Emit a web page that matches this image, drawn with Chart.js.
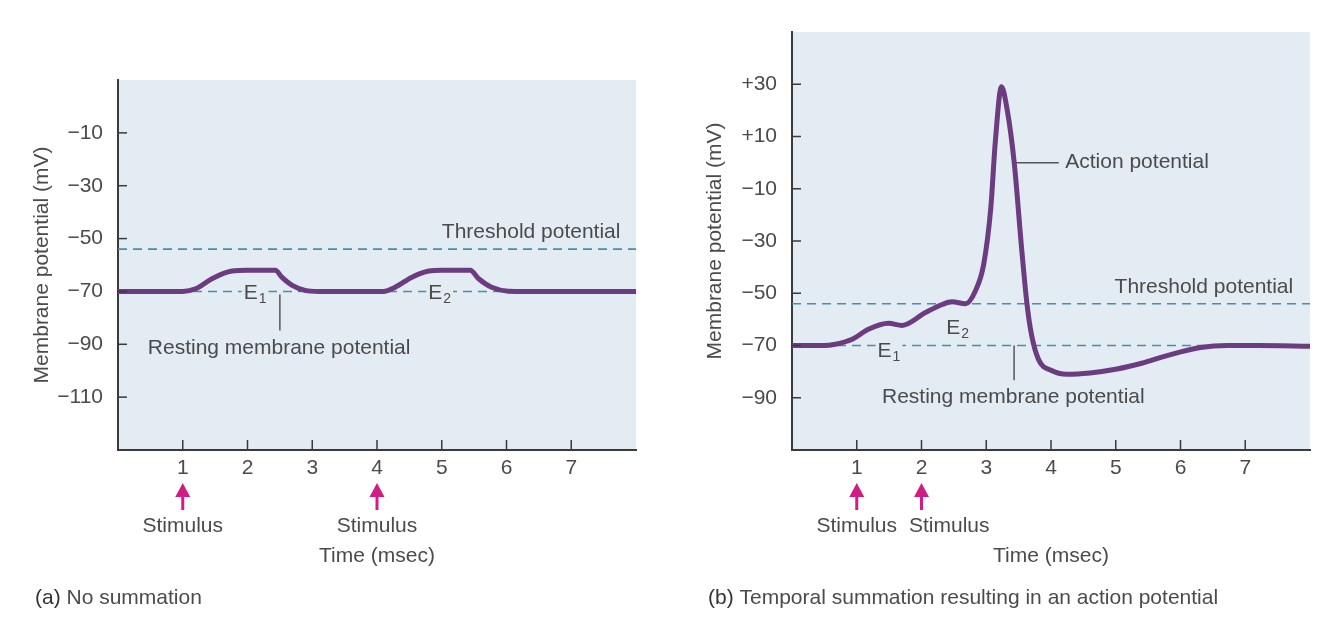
<!DOCTYPE html>
<html>
<head>
<meta charset="utf-8">
<script src="https://cdn.jsdelivr.net/npm/chart.js@4.4.1/dist/chart.umd.min.js"></script>
<style>
  html, body { margin: 0; padding: 0; background: #fff; }
  #wrap { position: relative; width: 1344px; height: 640px; }
  .panel { position: absolute; top: 0; width: 672px; height: 640px; }
  #panelA { left: 0; }
  #panelB { left: 672px; }
</style>
</head>
<body>
<div id="wrap">
  <div class="panel" id="panelA"><canvas id="chartA" width="672" height="640"></canvas></div>
  <div class="panel" id="panelB"><canvas id="chartB" width="672" height="640"></canvas></div>
</div>
<script>
// ---- data ----
const timeTicks = [1, 2, 3, 4, 5, 6, 7];
const yTicksA = [-110, -90, -70, -50, -30, -10];
const yTicksB = [-90, -70, -50, -30, -10, 10, 30];

const thresholdMv = -54;
const restingMv = -70;

// (a) no summation: two separate EPSPs
const timeA = [0, 1.0, 1.2, 1.45, 1.76, 2.0, 2.43, 2.53, 2.69, 2.89, 3.1, 4.1, 4.28, 4.54, 4.8, 5.0, 5.44, 5.57, 5.77, 6.03, 6.3, 8];
const voltageA = [-70, -70, -69, -65.2, -62.3, -62, -62, -64.6, -67.7, -69.6, -70, -70, -68.4, -64.6, -62.3, -62, -62, -65.2, -68.4, -69.9, -70, -70];
const stimulusA = [1, 4];

// (b) temporal summation -> action potential
const timeB = [0, 0.5, 0.65, 0.93, 1.18, 1.49, 1.7, 2.06, 2.32, 2.47, 2.68, 2.83, 2.96, 3.07, 3.14, 3.235, 3.32, 3.43, 3.55, 3.63, 3.7, 3.81, 4.0, 4.25, 4.6, 5.02, 5.4, 5.79, 6.31, 6.72, 7.2, 8];
const voltageB = [-70, -70, -69.6, -67.6, -63.8, -61.5, -62.3, -57.4, -54.3, -53.3, -54, -49.2, -39, -17.4, 8, 29, 20.7, 0.4, -33.9, -54.3, -66, -75.5, -79.5, -81, -80.5, -79, -76.8, -73.9, -70.8, -70, -70, -70.3];
const stimulusB = [1, 2];

// ---- styling ----
const FONT = "'Liberation Sans', Arial, sans-serif";
const TEXT = '#4b4b4b';
const PLOT_BG = '#e3ebf3';
const CURVE = '#6c3b80';
const DASH = '#4a8fa9';
const AXIS = '#3a3a3a';
const ARROW = '#d01c84';
const FS = 21;

Chart.defaults.font.family = FONT;
Chart.defaults.font.size = FS;
Chart.defaults.color = TEXT;

const toPoints = (xs, ys) => xs.map((x, i) => ({ x: x, y: ys[i] }));
const fmtMv = v => v < 0 ? '\u2212' + Math.abs(v) : (v > 0 ? '+' + v : '0');

function text(ctx, s, x, y, align, size) {
  ctx.font = (size || FS) + 'px ' + FONT;
  ctx.fillStyle = TEXT;
  ctx.textAlign = align || 'left';
  ctx.textBaseline = 'middle';
  ctx.fillText(s, x, y);
}

function subLabel(ctx, x, y, main, sub, withBg) {
  ctx.font = FS + 'px ' + FONT;
  const wm = ctx.measureText(main).width;
  ctx.font = '14px ' + FONT;
  const ws = ctx.measureText(sub).width;
  const left = x - wm / 2;
  if (withBg) {
    ctx.fillStyle = PLOT_BG;
    ctx.fillRect(left - 2, y - 8, wm + ws + 5, 18);
  }
  text(ctx, main, left, y, 'left', FS);
  text(ctx, sub, left + wm + 1, y + 6, 'left', 14);
}

function line(ctx, x1, y1, x2, y2, color, w) {
  ctx.strokeStyle = color;
  ctx.lineWidth = w;
  ctx.beginPath();
  ctx.moveTo(x1, y1);
  ctx.lineTo(x2, y2);
  ctx.stroke();
}

// draws background, inward ticks, annotations, stimulus arrows and caption
const physioPlugin = {
  id: 'physio',
  beforeDraw(chart) {
    const { ctx, chartArea: a } = chart;
    ctx.save();
    ctx.fillStyle = PLOT_BG;
    ctx.fillRect(a.left, a.top, a.right - a.left, a.bottom - a.top);
    ctx.restore();
  },
  afterDraw(chart, args, opts) {
    const { ctx, chartArea: a } = chart;
    const xs = chart.scales.x, ys = chart.scales.y;
    const X = v => xs.getPixelForValue(v);
    const Y = v => ys.getPixelForValue(v);
    ctx.save();

    // inward tick marks
    timeTicks.forEach(v => line(ctx, X(v), a.bottom, X(v), a.bottom - 10, AXIS, 1.5));
    opts.yTicks.forEach(v => line(ctx, a.left, Y(v), a.left + 9, Y(v), AXIS, 1.5));

    // E labels
    opts.eLabels.forEach(l => subLabel(ctx, X(l.x), Y(l.y), 'E', l.sub, l.bg));

    // leader lines
    opts.leaders.forEach(l => line(ctx, X(l.x1), Y(l.y1), X(l.x2), Y(l.y2), '#555', 1.5));

    // text notes
    opts.notes.forEach(n => text(ctx, n.text, X(n.x), Y(n.y), n.align, FS));

    // stimulus arrows and labels
    let prevRight = -Infinity;
    opts.stimulus.forEach(t => {
      const px = X(t);
      ctx.strokeStyle = ARROW;
      ctx.fillStyle = ARROW;
      ctx.lineWidth = 3;
      ctx.beginPath();
      ctx.moveTo(px, a.bottom + 60);
      ctx.lineTo(px, a.bottom + 44);
      ctx.stroke();
      ctx.beginPath();
      ctx.moveTo(px, a.bottom + 33);
      ctx.lineTo(px - 7.5, a.bottom + 47);
      ctx.lineTo(px + 7.5, a.bottom + 47);
      ctx.closePath();
      ctx.fill();

      ctx.font = FS + 'px ' + FONT;
      const w = ctx.measureText('Stimulus').width;
      let cx = px;
      if (cx - w / 2 < prevRight + 12) cx = prevRight + 12 + w / 2;
      text(ctx, 'Stimulus', cx, a.bottom + 76, 'center', FS);
      prevRight = cx + w / 2;
    });

    // caption
    ctx.font = FS + 'px ' + FONT;
    ctx.fillStyle = '#333';
    ctx.textAlign = 'left';
    ctx.textBaseline = 'middle';
    ctx.fillText(opts.tag, opts.captionX, 598);
    const tw = ctx.measureText(opts.tag + ' ').width;
    text(ctx, opts.caption, opts.captionX + tw, 598, 'left', FS);

    ctx.restore();
  }
};

function makeChart(id, cfg) {
  return new Chart(document.getElementById(id), {
    type: 'line',
    data: {
      datasets: [
        {
          data: toPoints(cfg.time, cfg.voltage),
          borderColor: CURVE,
          borderWidth: 5,
          pointRadius: 0,
          cubicInterpolationMode: 'monotone',
          borderCapStyle: 'round',
          borderJoinStyle: 'round',
          order: 0
        },
        {
          data: toPoints([0, 8], [thresholdMv, thresholdMv]),
          borderColor: DASH,
          borderWidth: 1.6,
          borderDash: [9, 6],
          pointRadius: 0,
          order: 1
        },
        {
          data: toPoints([0, 8], [restingMv, restingMv]),
          borderColor: DASH,
          borderWidth: 1.6,
          borderDash: [9, 6],
          pointRadius: 0,
          order: 2
        }
      ]
    },
    options: {
      responsive: false,
      animation: false,
      events: [],
      layout: { padding: { left: 0, right: cfg.padRight, top: cfg.padTop, bottom: 70 } },
      plugins: {
        legend: { display: false },
        tooltip: { enabled: false },
        physio: cfg.annot
      },
      scales: {
        x: {
          type: 'linear',
          min: 0,
          max: 8,
          grid: { display: false, drawTicks: false },
          border: { display: true, color: AXIS, width: 2 },
          ticks: { padding: 6, maxRotation: 0, color: TEXT, font: { size: FS } },
          afterBuildTicks: s => { s.ticks = timeTicks.map(v => ({ value: v })); },
          afterFit: s => { s.height = 120; },
          title: { display: true, text: 'Time (msec)', color: TEXT, font: { size: FS }, padding: { top: 0, bottom: 1 } }
        },
        y: {
          min: cfg.yMin,
          max: cfg.yMax,
          grid: { display: false, drawTicks: false },
          border: { display: true, color: AXIS, width: 2 },
          ticks: { padding: 15, color: TEXT, font: { size: FS }, callback: v => fmtMv(v) },
          afterBuildTicks: s => { s.ticks = cfg.yTicks.map(v => ({ value: v })); },
          afterFit: s => { s.width = cfg.yWidth; },
          title: { display: true, text: 'Membrane potential (mV)', color: TEXT, font: { size: FS }, padding: { top: cfg.titlePad, bottom: 0 } }
        }
      }
    },
    plugins: [physioPlugin]
  });
}

makeChart('chartA', {
  time: timeA, voltage: voltageA, yTicks: yTicksA,
  yMin: -130, yMax: 10, yWidth: 118, padRight: 36, padTop: 80, titlePad: 30,
  annot: {
    yTicks: yTicksA,
    stimulus: stimulusA,
    eLabels: [
      { x: 2.05, y: -70.5, sub: '1', bg: true },
      { x: 4.9, y: -70.5, sub: '2', bg: true }
    ],
    leaders: [{ x1: 2.5, y1: -71.2, x2: 2.5, y2: -84.8 }],
    notes: [
      { text: 'Threshold potential', x: 7.76, y: -47.7, align: 'right' },
      { text: 'Resting membrane potential', x: 0.46, y: -91.6, align: 'left' }
    ],
    tag: '(a)', caption: 'No summation', captionX: 35
  }
});

makeChart('chartB', {
  time: timeB, voltage: voltageB, yTicks: yTicksB,
  yMin: -110, yMax: 50, yWidth: 120, padRight: 34, padTop: 32, titlePad: 31,
  annot: {
    yTicks: yTicksB,
    stimulus: stimulusB,
    eLabels: [
      { x: 1.43, y: -72.2, sub: '1', bg: true },
      { x: 2.49, y: -63.3, sub: '2', bg: false }
    ],
    leaders: [
      { x1: 3.43, y1: -70, x2: 3.43, y2: -83.3 },
      { x1: 3.45, y1: 0, x2: 4.12, y2: 0 }
    ],
    notes: [
      { text: 'Threshold potential', x: 7.74, y: -47.5, align: 'right' },
      { text: 'Action potential', x: 4.22, y: 0, align: 'left' },
      { text: 'Resting membrane potential', x: 1.39, y: -89.8, align: 'left' }
    ],
    tag: '(b)', caption: 'Temporal summation resulting in an action potential', captionX: 36
  }
});
</script>
</body>
</html>
